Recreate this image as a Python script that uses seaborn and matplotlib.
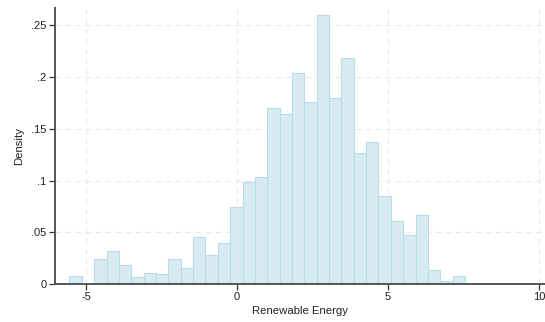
import numpy as np
import pandas as pd
import matplotlib
matplotlib.use("Agg")
import matplotlib.pyplot as plt
import seaborn as sns

# Histogram bins (Renewable Energy) and density heights
bin_start = -5.55
bin_width = 0.4094
densities = [0.0077, 0.0, 0.0242, 0.0319, 0.0184, 0.0068, 0.0106, 0.0097,
             0.0242, 0.0155, 0.0454, 0.0277, 0.0396, 0.0744, 0.0986, 0.1034,
             0.1698, 0.1640, 0.2040, 0.1760, 0.2600, 0.1794, 0.2184, 0.1263,
             0.1369, 0.0847, 0.0609, 0.0474, 0.0667, 0.0135, 0.0029, 0.0077]
x_ticks = [-5, 0, 5, 10]
x_tick_labels = ["-5", "0", "5", "10"]
y_ticks = [0, 0.05, 0.10, 0.15, 0.20, 0.25]
y_tick_labels = ["0", ".05", ".1", ".15", ".2", ".25"]

n = len(densities)
bin_end = bin_start + bin_width * n
centers = bin_start + bin_width * (np.arange(n) + 0.5)
df = pd.DataFrame({"x": centers, "w": densities})

sns.set_style("white")
plt.rcParams["font.family"] = ["Liberation Sans", "DejaVu Sans"]

fig = plt.figure(figsize=(5.45, 3.22), dpi=100)
ax = fig.add_axes([55 / 545, 38 / 322, 1 - 55 / 545, (284 - 8) / 322])

for t in y_ticks[1:]:
    ax.axhline(t, color="#e9e9e9", lw=0.8, ls=(0, (5, 4)), zorder=0)
for t in x_ticks:
    ax.axvline(t, color="#e9e9e9", lw=0.8, ls=(0, (5, 4)), zorder=0)

sns.histplot(data=df, x="x", weights="w", binwidth=bin_width,
             binrange=(bin_start, bin_end), stat="count",
             color="#d8ebf2", alpha=1.0, edgecolor="#b8dde9", linewidth=0.8,
             ax=ax, zorder=2)

ax.set_xlim(-6.03, 10.2)
ax.set_ylim(0, 0.2667)
ax.set_xticks(x_ticks)
ax.set_xticklabels(x_tick_labels)
ax.set_yticks(y_ticks)
ax.set_yticklabels(y_tick_labels)
ax.set_xlabel("Renewable Energy", fontsize=8.2, color="#222222", labelpad=3)
ax.set_ylabel("Density", fontsize=8.2, color="#222222", labelpad=5)

for s in ["top", "right"]:
    ax.spines[s].set_visible(False)
for s in ["left", "bottom"]:
    ax.spines[s].set_color("#555555")
    ax.spines[s].set_linewidth(1.4)
ax.tick_params(axis="both", which="major", direction="out", length=4,
               width=0.9, color="#333333", labelsize=8, labelcolor="#222222",
               pad=2, left=True, bottom=True)

fig.savefig("out.png", dpi=100)
